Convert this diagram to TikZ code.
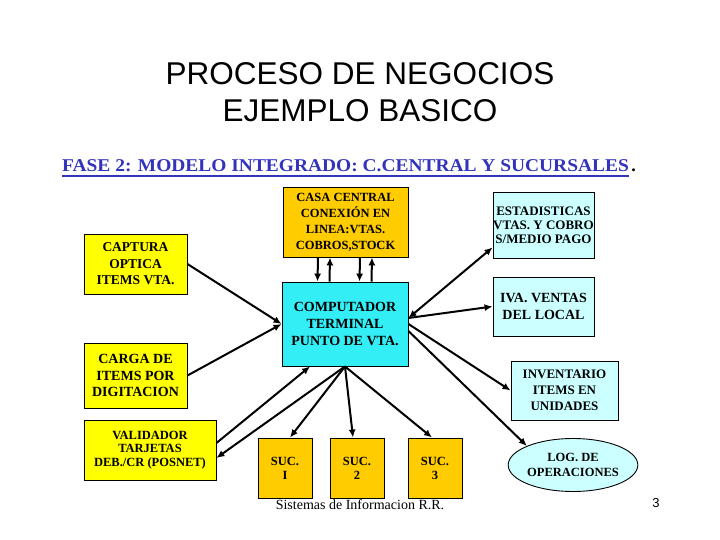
\documentclass[tikz,border=0pt]{standalone}
\usepackage{fontspec}
\usepackage{graphicx}
\setmainfont{Liberation Serif}
\newfontfamily\arialfont{Liberation Sans}
\usetikzlibrary{arrows.meta,shapes.geometric}
\definecolor{boxyellow}{HTML}{FFFF00}
\definecolor{boxgold}{HTML}{FFCC00}
\definecolor{boxcyan}{HTML}{33EEF5}
\definecolor{boxlight}{HTML}{CCFFFF}
\definecolor{subblue}{HTML}{3333BB}
\tikzset{
  bx/.style={draw=black, line width=0.9pt, align=center, inner sep=0pt,
    font=\fontsize{13.5}{16.5}\selectfont\bfseries},
  conn/.style={line width=2pt, -{Latex[length=8pt,width=7pt]}},
}
\begin{document}
\begin{tikzpicture}[x=1pt,y=-1pt]
\useasboundingbox[fill=white] (0,0) rectangle (720,540);
% titles
\node[align=center, font=\arialfont\fontsize{31.5}{37}\selectfont] (title) at (360,92) {PROCESO DE NEGOCIOS\\EJEMPLO BASICO};
\node[anchor=base west, inner sep=0pt, text=subblue, font=\fontsize{18}{20}\selectfont\bfseries] (sub) at (62,171.5) {\scalebox{1.08}[1]{FASE 2: MODELO INTEGRADO: C.CENTRAL Y SUCURSALES}};
\draw[subblue, line width=1.3pt] ([yshift=-4.5pt]sub.base west) -- ([yshift=-4.5pt]sub.base east);
\node[anchor=base west, inner sep=0pt, font=\fontsize{18}{20}\selectfont\bfseries] (dot) at ([xshift=2pt]sub.base east) {.};
% boxes
\node[bx, fill=boxyellow, minimum width=103pt, minimum height=60pt] (capt) at (135.5,264) {CAPTURA\\OPTICA\\ITEMS VTA.};
\node[bx, fill=boxgold, minimum width=125pt, minimum height=70pt, font=\fontsize{12.5}{16}\selectfont\bfseries] (casa) at (345.5,222) {CASA CENTRAL\\CONEXIÓN EN\\LINEA:VTAS.\\COBROS,STOCK};
\node[bx, fill=boxcyan, minimum width=126pt, minimum height=84pt, font=\fontsize{14}{17}\selectfont\bfseries] (comp) at (345,324) {COMPUTADOR\\TERMINAL\\PUNTO DE VTA.};
\node[bx, fill=boxlight, minimum width=101pt, minimum height=66pt, font=\fontsize{13}{14}\selectfont\bfseries] (esta) at (543.5,225) {ESTADISTICAS\\VTAS. Y COBRO\\S/MEDIO PAGO};
\node[bx, fill=boxlight, minimum width=101pt, minimum height=59pt, font=\fontsize{14}{17}\selectfont\bfseries] (iva) at (543.5,306.5) {IVA. VENTAS\\DEL LOCAL};
\node[bx, fill=boxlight, minimum width=107pt, minimum height=59pt, font=\fontsize{13}{16}\selectfont\bfseries] (inv) at (564.5,390.5) {INVENTARIO\\ITEMS EN\\UNIDADES};
\node[bx, ellipse, fill=boxlight, minimum width=114pt, minimum height=53pt, font=\fontsize{12.5}{15}\selectfont\bfseries] (log) at (573,465) {LOG. DE\\OPERACIONES};
\node[bx, fill=boxyellow, minimum width=103pt, minimum height=65pt, font=\fontsize{14}{16.5}\selectfont\bfseries] (carga) at (135.5,375.5) {CARGA DE\\ITEMS POR\\DIGITACION};
\node[bx, fill=boxyellow, minimum width=132pt, minimum height=60pt, font=\fontsize{12.5}{13.5}\selectfont\bfseries] (valid) at (150,450) {VALIDADOR\\TARJETAS\\DEB./CR (POSNET)};
\node[bx, fill=boxgold, minimum width=54pt, minimum height=60pt, font=\fontsize{12.5}{14}\selectfont\bfseries] (suc1) at (285,468) {SUC.\\I};
\node[bx, fill=boxgold, minimum width=54pt, minimum height=60pt, font=\fontsize{12.5}{14}\selectfont\bfseries] (suc2) at (357,468) {SUC.\\2};
\node[bx, fill=boxgold, minimum width=54pt, minimum height=60pt, font=\fontsize{12.5}{14}\selectfont\bfseries] (suc3) at (435,468) {SUC.\\3};
% footer
\node[anchor=base, inner sep=0pt, font=\fontsize{14}{16}\selectfont] (foot) at (360,509) {Sistemas de Informacion R.R.};
\node[inner sep=0pt, font=\arialfont\fontsize{13}{15}\selectfont] (pg) at (656,503) {3};
% connectors
\draw[conn] (capt.east) -- (comp.west);
\draw[conn] (carga.east) -- (comp.west);
\draw[conn] ([xshift=-27.5pt]casa.south) -- ([xshift=-27.5pt]comp.north);
\draw[conn] ([xshift=-15.5pt]comp.north) -- ([xshift=-15.5pt]casa.south);
\draw[conn] ([xshift=14.5pt]casa.south) -- ([xshift=14.5pt]comp.north);
\draw[conn] ([xshift=26.5pt]comp.north) -- ([xshift=26.5pt]casa.south);
\draw[line width=2pt, {Latex[length=8pt,width=7pt]}-{Latex[length=8pt,width=7pt]}] ([yshift=6pt]comp.east) -- ([yshift=11pt]esta.south west);
\draw[conn] ([yshift=6pt]comp.east) -- (iva.west);
\draw[conn] (comp.east) -- (inv.west);
\draw[conn] ([yshift=-7pt]comp.east) -- (log.north west);
\draw[conn] (comp.south) -- ([xshift=5pt]suc1.north);
\draw[conn] (comp.south) -- ([xshift=-4pt]suc2.north);
\draw[conn] (comp.south) -- ([xshift=-3pt]suc3.north);
\draw[conn] (comp.south) -- ([yshift=-8pt]valid.east);
\draw[conn] ([yshift=7pt]valid.east) -- ([xshift=-35pt]comp.south);
\end{tikzpicture}
\end{document}
